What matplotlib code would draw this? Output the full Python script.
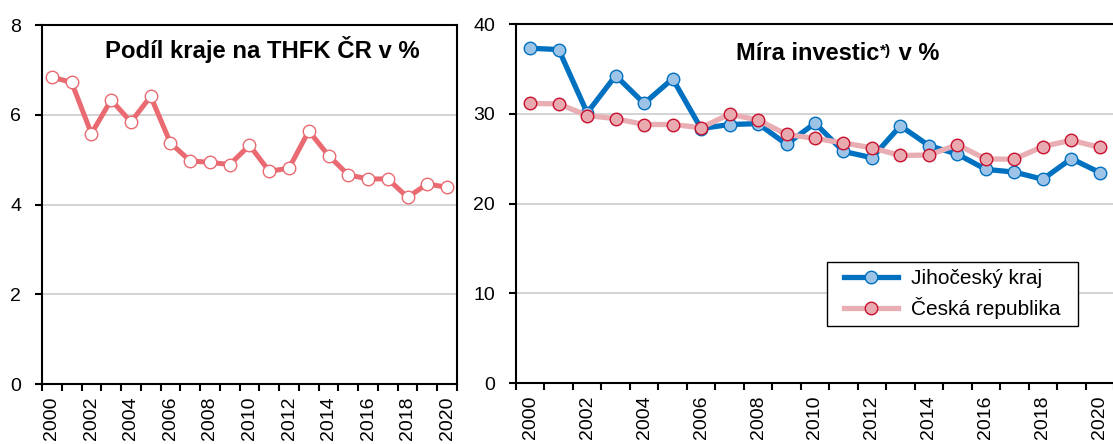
import matplotlib

matplotlib.use('Agg')
import matplotlib.pyplot as plt
import numpy as np
from matplotlib.path import Path
from matplotlib.transforms import offset_copy

plt.rcParams['font.family'] = ['Liberation Sans', 'DejaVu Sans']

years = [str(y) for y in range(2000, 2021)]

# podil kraje na THFK CR v %
share = [6.84, 6.72, 5.58, 6.33, 5.84, 6.41, 5.37, 4.97, 4.94, 4.89, 5.32,
         4.74, 4.81, 5.64, 5.09, 4.66, 4.57, 4.57, 4.16, 4.46, 4.38]

# mira investic v %
inv_region = [37.3, 37.15, 30.1, 34.25, 31.15, 33.9, 28.35, 28.8, 28.9, 26.6, 28.95,
              25.8, 25.1, 28.65, 26.45, 25.5, 23.8, 23.5, 22.7, 25.0, 23.45]
inv_cr = [31.15, 31.1, 29.8, 29.45, 28.8, 28.8, 28.45, 29.95, 29.3, 27.7, 27.25,
          26.75, 26.2, 25.35, 25.4, 26.55, 24.95, 24.95, 26.35, 27.05, 26.25]

legend_labels = ['Jihočeský kraj', 'Česká republika']

fig = plt.figure(figsize=(11.13, 4.44), dpi=100)
ax1 = fig.add_axes([42 / 1113, 1 - 384 / 444, 415 / 1113, 359 / 444])
ax2 = fig.add_axes([516 / 1113, 1 - 383 / 444, 598 / 1113, 359 / 444])


def style_axis(ax, yticks):
    x = np.arange(len(years))
    ax.set_xlim(-0.5, len(years) - 0.5)
    ax.set_ylim(yticks[0], yticks[-1])
    ax.set_yticks(yticks)
    ax.set_xticks(x[::2])
    ax.set_xticklabels(years[::2], rotation=90, va='top')
    ax.set_xticks(np.arange(-0.5, len(years)), minor=True)
    ax.tick_params(axis='x', which='major', length=0, pad=9, labelsize=14)
    ax.tick_params(axis='x', which='minor', length=5, width=1.5, direction='out')
    ax.tick_params(axis='y', length=5, width=1.5, direction='out', pad=10, labelsize=14)
    ax.yaxis.grid(True, color='#c8c8c8', linewidth=1.1)
    ax.set_axisbelow(True)
    for s in ax.spines.values():
        s.set_linewidth(1.5)
    return x


x = style_axis(ax1, [0, 2, 4, 6, 8])
ax1.plot(x, share, color='#e96a71', linewidth=3.6, marker='o', markersize=9,
         markerfacecolor='white', markeredgecolor='#e96a71', markeredgewidth=1.0)
ax1.text(0.53, 0.931, 'Podíl kraje na THFK ČR v %', transform=ax1.transAxes,
         ha='center', va='center', fontsize=17.2, fontweight='bold')

x = style_axis(ax2, [0, 10, 20, 30, 40])
ax2.spines['right'].set_visible(False)
ax2.plot(x, inv_region, color='#0070c0', linewidth=3.8, marker='o', markersize=9,
         markerfacecolor='#9dc3e6', markeredgecolor='#0070c0', markeredgewidth=1.0,
         label=legend_labels[0])
ax2.plot(x, inv_cr, color='#e9aeb3', linewidth=3.8, marker='o', markersize=9,
         markerfacecolor='#e8a9af', markeredgecolor='#c8102e', markeredgewidth=1.0,
         label=legend_labels[1])

# title with superscript built from pieces
tx, ty = (736 - 516) / 598, (383 - 59.5) / 359
t1 = ax2.text(tx, ty, 'Míra investic', transform=ax2.transAxes, ha='left',
              va='baseline', fontsize=17, fontweight='bold')
fig.canvas.draw()
w1 = t1.get_window_extent().width
t2 = ax2.text(tx, ty, '*)', ha='left', va='top', fontsize=11, fontweight='bold',
              transform=offset_copy(ax2.transAxes, fig=fig, x=w1 + 1, y=16, units='dots'))
fig.canvas.draw()
w2 = t2.get_window_extent().width
ax2.text(tx, ty, ' v %', ha='left', va='baseline', fontsize=17, fontweight='bold',
         transform=offset_copy(ax2.transAxes, fig=fig, x=w1 + w2 + 1, y=0, units='dots'))


def wide_box(x0, y0, width, height, mutation_size):
    dx = 0.5 * mutation_size
    return Path([(x0 - dx, y0), (x0 + width + dx, y0), (x0 + width + dx, y0 + height),
                 (x0 - dx, y0 + height), (x0 - dx, y0)], closed=True)


leg = ax2.legend(loc='upper left', bbox_to_anchor=((837 - 516) / 598, (383 - 262) / 359),
                 borderaxespad=0, fontsize=15, frameon=True, fancybox=False,
                 framealpha=1, edgecolor='black', handlelength=2.6, borderpad=0.35,
                 labelspacing=0.42, handletextpad=0.6)
leg.get_frame().set_linewidth(1.0)
leg.get_frame().set_boxstyle(wide_box)

fig.savefig('out.png', dpi=100, facecolor='w')
